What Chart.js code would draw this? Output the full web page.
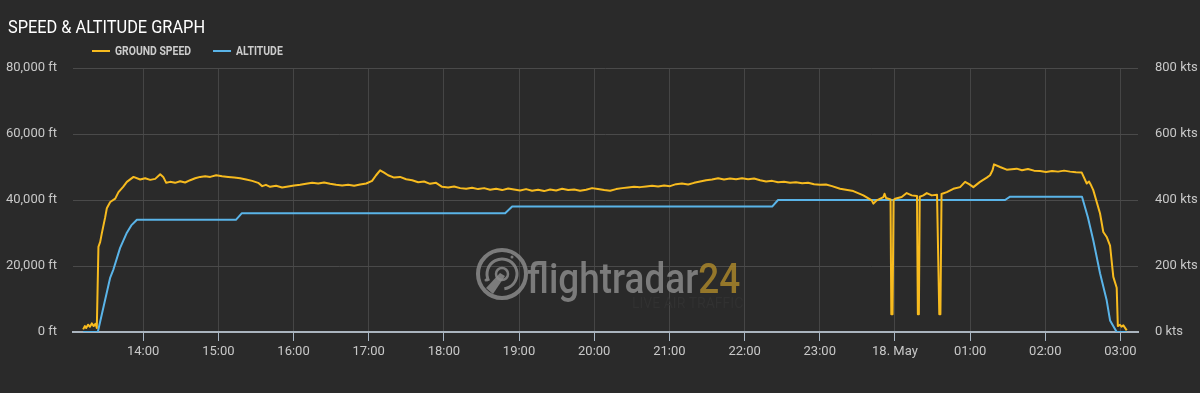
<!DOCTYPE html>
<html>
<head>
<meta charset="utf-8">
<title>Speed &amp; Altitude Graph</title>
<script src="https://cdn.jsdelivr.net/npm/chart.js@4.4.1/dist/chart.umd.min.js"></script>
<style>
  html, body { margin: 0; padding: 0; background: #2a2a2a; }
  canvas { display: block; }
</style>
</head>
<body>
<canvas id="chart-flight" width="1200" height="393"></canvas>
<script>
'use strict';

// time is in minutes after 13:00 (17 May), values after midnight keep counting
var xTickMinutes = [60, 120, 180, 240, 300, 360, 420, 480, 540, 600, 660, 720, 780, 840];
var xTickLabels  = ['14:00', '15:00', '16:00', '17:00', '18:00', '19:00', '20:00',
                    '21:00', '22:00', '23:00', '18. May', '01:00', '02:00', '03:00'];

var altTicks       = [0, 20000, 40000, 60000, 80000];
var altTickLabels  = ['0 ft', '20,000 ft', '40,000 ft', '60,000 ft', '80,000 ft'];
var speedTicks      = [0, 200, 400, 600, 800];
var speedTickLabels = ['0 kts', '200 kts', '400 kts', '600 kts', '800 kts'];

var seriesLabels = ['GROUND SPEED', 'ALTITUDE'];

// altitude (ft)
var altMinutes = [12.1, 23.8, 33.7, 36.3, 41.6, 47, 50.5, 55, 134, 138.8, 348.9, 354.5,
                  562, 566.7, 747.9, 751.9, 809.3, 814, 818.3, 823.7, 829, 831.7, 837, 845];
var altFeet    = [0, 0, 16500, 19000, 25500, 30100, 32300, 34000, 34000, 36000, 36000, 38000,
                  38000, 40000, 40000, 41000, 41000, 34800, 27800, 17800, 9600, 3500, 0, 0];

// ground speed (kts)
var speedMinutes = [
  12.1, 13.5, 14.5, 16, 17.5, 19, 20.5, 22, 23, 24.3, 25.7, 27, 29.7, 31, 33.7, 37.7, 40.3, 44, 47, 52.3, 57.6,
  61.6, 65.6, 69.6, 73.6, 76, 78.4, 81.5, 85.5, 89.5, 93.5, 97.5, 101.5, 105.5, 109.5, 113.5, 118.3, 123,
  127.8, 132.6, 137.4, 142.2, 147, 151.8, 155, 158, 161.3, 166.1, 170.9, 175.7, 180.5, 185.3, 190, 194.9,
  199.7, 204.4, 209.2, 214, 218.8, 223.6, 228.4, 233.2, 238, 242.7, 245.9, 249.1, 252.3, 255.5, 260.3, 265,
  269.9, 274.7, 279.5, 284.2, 289, 293.8, 298.6, 303.4, 308.2, 313, 317.8, 322.5, 327.3, 332.1, 336.9,
  341.7, 346.5, 351.3, 356, 360.8, 365.6, 370.4, 375.2, 380, 384.8, 389.6, 394.4, 399.2, 404, 408.7, 413.5,
  418.3, 423, 428, 432.7, 437.5, 442.3, 447, 451.8, 456.6, 461.4, 466.2, 471, 475.8, 480.5, 485.3, 490, 495,
  499.7, 504.5, 509.3, 514, 518.9, 523.6, 528.4, 533.2, 538, 542.8, 547.6, 552.4, 557.2, 562, 566.7, 571.5,
  576.3, 581, 586, 590.7, 595.5, 600.2, 605, 609.8, 616.2, 626.8, 634.8, 641.5, 642.8, 645.5, 650.8, 651.7,
  652.9, 654.7, 656.5, 657.1, 658.1, 658.9, 660.1, 665.4, 669.4, 673.4, 677.6, 678.3, 679.1, 679.8, 682.7,
  685.4, 689.4, 693.6, 695.4, 696.3, 697.2, 701.4, 706.6, 712, 716, 719.2, 722.6, 727.9, 733.3, 735.9, 737.9,
  739.1, 743.9, 749.2, 757.2, 761.4, 766.2, 771, 775.8, 780.6, 785.4, 790.2, 795, 799.8, 804.5, 809.1, 813.1,
  814.9, 816.1, 818.3, 823.7, 826.3, 829, 831.7, 834.3, 837, 837.9, 839.6, 840.8, 842.3, 845
];
var speedKts = [
  8, 18, 12, 22, 16, 26, 18, 25, 12, 258, 273, 299, 348, 375, 394, 404, 424, 440, 455, 470, 462,
  466, 461, 464, 478, 470, 452, 455, 452, 457, 453, 460, 466, 470, 472, 470, 475, 472,
  470, 468, 466, 462, 458, 452, 442, 446, 440, 443, 438, 441, 444, 446, 449, 452,
  450, 453, 449, 446, 444, 446, 443, 447, 450, 458, 475, 490, 483, 475, 468, 470,
  463, 460, 454, 456, 449, 452, 440, 438, 441, 436, 434, 437, 433, 436, 431,
  434, 430, 435, 432, 429, 433, 428, 431, 427, 432, 429, 434, 430, 432, 428, 431,
  436, 433, 430, 428, 433, 436, 438, 440, 439, 441, 443, 441, 444, 442, 448, 450, 447,
  452, 456, 460, 462, 466, 462, 465, 463, 466, 463, 465, 460, 456, 458, 454, 455,
  452, 454, 451, 452, 448, 446, 447, 442, 434, 427, 414, 399, 389, 399, 409, 419,
  406, 404, 402, 54, 54, 400, 404, 409, 421, 414, 412, 54, 54, 410, 414,
  421, 414, 416, 54, 54, 418, 424, 434, 439, 455, 448, 439, 455, 468, 475, 490,
  508, 500, 492, 495, 490, 494, 489, 488, 485, 488, 486, 489, 486, 484, 483, 450,
  456, 448, 430, 359, 303, 288, 262, 167, 134, 18, 22, 16, 20, 5
];

var speedColor = '#f7bb1f';
var altColor   = '#5ab4e8';

function toPoints(xs, ys) {
  return xs.map(function(x, i) { return {x: x, y: ys[i]}; });
}

// draw text squeezed horizontally, the original uses a condensed face
function narrowText(ctx, text, x, y, squeeze) {
  ctx.save();
  ctx.translate(x, y);
  ctx.scale(squeeze, 1);
  ctx.fillText(text, 0, 0);
  ctx.restore();
  return ctx.measureText(text).width * squeeze;
}

// background, watermark, title and legend
var frame = {
  id: 'frame',
  beforeDraw: function(chart) {
    var ctx = chart.ctx;
    ctx.save();
    ctx.fillStyle = '#2a2a2a';
    ctx.fillRect(0, 0, chart.width, chart.height);
    ctx.restore();
  },
  beforeDatasetsDraw: function(chart) {
    var ctx = chart.ctx;
    var cx = 502, cy = 274;
    ctx.save();
    ctx.globalAlpha = 0.85;
    ctx.strokeStyle = '#8a8a8a';
    ctx.fillStyle = '#8a8a8a';
    ctx.lineWidth = 4;
    ctx.beginPath(); ctx.arc(cx, cy, 24, 0, Math.PI * 2); ctx.stroke();
    ctx.lineWidth = 3;
    ctx.beginPath(); ctx.arc(cx, cy, 15, Math.PI * 0.85, Math.PI * 2.45); ctx.stroke();
    ctx.lineWidth = 2.5;
    ctx.beginPath(); ctx.arc(cx, cy, 6, 0, Math.PI * 2); ctx.stroke();
    ctx.beginPath();
    ctx.moveTo(cx - 2, cy - 1);
    ctx.lineTo(cx + 3, cy + 2);
    ctx.lineTo(cx - 9, cy + 20);
    ctx.lineTo(cx - 16, cy + 14);
    ctx.closePath();
    ctx.fill();
    ctx.beginPath(); ctx.arc(cx + 10, cy - 17, 1.5, 0, Math.PI * 2); ctx.fill();
    ctx.beginPath(); ctx.arc(cx - 16, cy + 6, 1.5, 0, Math.PI * 2); ctx.fill();

    ctx.font = '500 42px Roboto';
    ctx.textBaseline = 'alphabetic';
    ctx.textAlign = 'left';
    var w = narrowText(ctx, 'flightradar', 527, 293, 0.88);
    ctx.fillStyle = '#a8852a';
    narrowText(ctx, '24', 527 + w, 293, 0.88);
    ctx.globalAlpha = 1;
    ctx.fillStyle = '#313131';
    ctx.font = '14px Roboto';
    ctx.fillText('LIVE AIR TRAFFIC', 632, 308);
    ctx.restore();
  },
  afterDraw: function(chart) {
    var ctx = chart.ctx;
    ctx.save();
    ctx.textBaseline = 'alphabetic';
    ctx.textAlign = 'left';
    ctx.fillStyle = '#ffffff';
    ctx.font = '19px Roboto';
    narrowText(ctx, 'SPEED & ALTITUDE GRAPH', 8, 33, 0.86);

    ctx.font = 'bold 13px Roboto';
    var x = 92;
    chart.data.datasets.forEach(function(ds) {
      ctx.fillStyle = ds.borderColor;
      ctx.fillRect(x, 50, 18, 2);
      ctx.fillStyle = '#cccccc';
      var w = narrowText(ctx, ds.label, x + 23, 55, 0.8);
      x += 23 + w + 22;
    });
    ctx.restore();
  }
};

var tickFont = {family: 'Roboto', size: 13};

new Chart(document.getElementById('chart-flight'), {
  type: 'line',
  data: {
    datasets: [{
      label: seriesLabels[0],
      data: toPoints(speedMinutes, speedKts),
      yAxisID: 'speed',
      borderColor: speedColor,
      backgroundColor: speedColor,
      borderWidth: 2,
      pointRadius: 0,
      tension: 0,
      borderJoinStyle: 'round'
    }, {
      label: seriesLabels[1],
      data: toPoints(altMinutes, altFeet),
      yAxisID: 'alt',
      borderColor: altColor,
      backgroundColor: altColor,
      borderWidth: 2,
      pointRadius: 0,
      tension: 0,
      borderJoinStyle: 'round'
    }]
  },
  options: {
    responsive: false,
    animation: false,
    devicePixelRatio: 1,
    layout: { padding: { top: 68, left: 0, right: 0, bottom: 0 } },
    plugins: {
      legend: { display: false },
      title: { display: false },
      tooltip: { enabled: false }
    },
    scales: {
      x: {
        type: 'linear',
        min: 4,
        max: 854,
        afterBuildTicks: function(scale) {
          scale.ticks = xTickMinutes.map(function(v) { return {value: v}; });
        },
        afterFit: function(scale) { scale.height = 61; },
        ticks: {
          color: '#c8c8c8',
          font: tickFont,
          padding: 3,
          maxRotation: 0,
          autoSkip: false,
          callback: function(v, i) { return xTickLabels[i]; }
        },
        grid: { color: '#454545', tickColor: '#a8b6c4', tickLength: 9 },
        border: { color: '#aab4be', width: 2 }
      },
      alt: {
        position: 'left',
        min: 0,
        max: 80000,
        afterBuildTicks: function(scale) {
          scale.ticks = altTicks.map(function(v) { return {value: v}; });
        },
        afterFit: function(scale) { scale.width = 73; },
        ticks: {
          color: '#c8c8c8',
          font: tickFont,
          padding: 16,
          callback: function(v, i) { return altTickLabels[i]; }
        },
        grid: { color: '#4a4a4a', drawTicks: false },
        border: { display: false }
      },
      speed: {
        position: 'right',
        min: 0,
        max: 800,
        afterBuildTicks: function(scale) {
          scale.ticks = speedTicks.map(function(v) { return {value: v}; });
        },
        afterFit: function(scale) { scale.width = 62; },
        ticks: {
          color: '#c8c8c8',
          font: tickFont,
          padding: 17,
          callback: function(v, i) { return speedTickLabels[i]; }
        },
        grid: { display: false, drawTicks: false },
        border: { display: false }
      }
    }
  },
  plugins: [frame]
});
</script>
</body>
</html>
